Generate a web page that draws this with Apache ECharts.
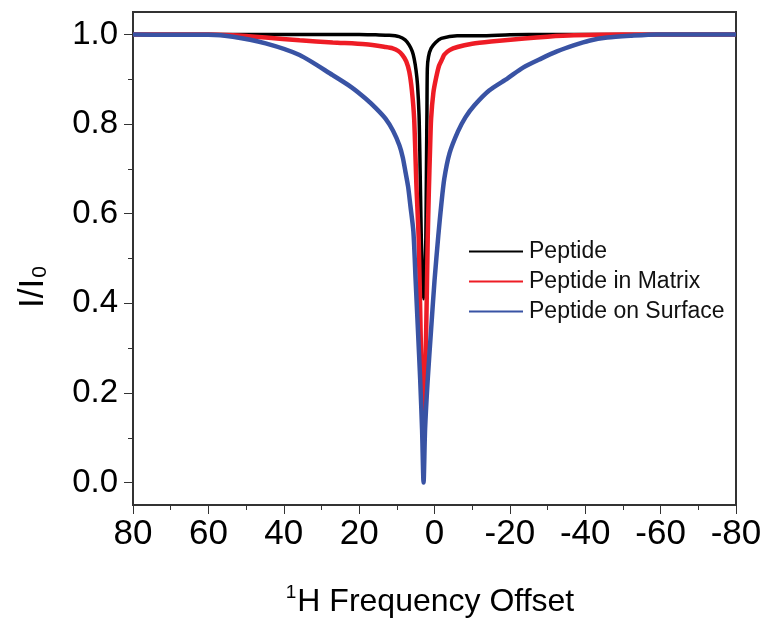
<!DOCTYPE html>
<html>
<head>
<meta charset="utf-8">
<script src="https://cdn.jsdelivr.net/npm/echarts@6/dist/echarts.min.js"></script>
<style>html,body{margin:0;padding:0;background:#fff;}#c{width:765px;height:620px;}</style>
</head>
<body>
<div id="c"></div>
<script>
// Frequency offset (x) and I/I0 (y)
const peptideX = [80, 40, 20, 15.6, 12, 9.4, 7.8, 6.7, 5.9, 5.4, 4.9, 4.5, 4.1, 3.9, 3.7, 3.5, 3.2, 2.9, 2.6, 2.3, 2.2, 2.1, 2.0, 1.9, 1.6, 0.9, -0.3, -1.8, -6, -12, -20, -30, -45, -80];
const peptideY = [1.000, 1.000, 1.000, 0.999, 0.998, 0.995, 0.988, 0.976, 0.962, 0.946, 0.920, 0.887, 0.820, 0.738, 0.640, 0.544, 0.450, 0.410, 0.450, 0.544, 0.640, 0.738, 0.830, 0.924, 0.950, 0.969, 0.982, 0.991, 0.997, 0.997, 0.999, 1.000, 1.000, 1.000];

const matrixX = [80, 60, 53.5, 44.8, 35.8, 27, 18.3, 13, 11.1, 9.6, 8.5, 7.5, 6.7, 6.0, 5.4, 4.8, 4.2, 3.7, 3.3, 3.0, 2.7, 2.2, 1.8, 1.5, 1.2, 0.9, 0.3, -0.4, -1.2, -2.1, -2.6, -4, -6.1, -10, -15, -23.8, -30, -37, -50, -80];
const matrixY = [1.000, 1.000, 0.998, 0.993, 0.987, 0.982, 0.978, 0.972, 0.969, 0.963, 0.954, 0.940, 0.917, 0.875, 0.812, 0.663, 0.544, 0.342, 0.180, 0.110, 0.180, 0.342, 0.544, 0.650, 0.738, 0.812, 0.870, 0.902, 0.930, 0.946, 0.955, 0.965, 0.972, 0.979, 0.984, 0.991, 0.995, 0.998, 1.000, 1.000];

const surfaceX = [80, 70, 60, 53.5, 44.8, 35.8, 27, 22, 18.3, 15.5, 13, 11, 9.3, 8.4, 7.7, 7.0, 6.4, 5.6, 5.0, 4.4, 3.8, 3.3, 2.9, 2.5, 1.8, 0.9, 0.0, -1.0, -1.8, -2.6, -4.0, -6.2, -8.2, -10.6, -14.5, -19.4, -23.5, -28.3, -32.5, -37.1, -41, -45.8, -52, -59, -70, -80];
const surfaceY = [1.000, 0.999, 0.999, 0.995, 0.980, 0.954, 0.909, 0.882, 0.857, 0.835, 0.812, 0.785, 0.752, 0.725, 0.693, 0.660, 0.618, 0.560, 0.450, 0.342, 0.230, 0.119, 0.000, 0.119, 0.230, 0.342, 0.450, 0.550, 0.620, 0.678, 0.735, 0.783, 0.815, 0.842, 0.875, 0.902, 0.926, 0.946, 0.962, 0.976, 0.986, 0.993, 0.997, 1.000, 1.000, 1.000];

const seriesNames = ['Peptide', 'Peptide in Matrix', 'Peptide on Surface'];
const xMajorTicks = [-80, -60, -40, -20, 0, 20, 40, 60, 80];
const yMajorTicks = [0, 0.2, 0.4, 0.6, 0.8, 1.0];
const yMinorTicks = [0.1, 0.3, 0.5, 0.7, 0.9];

function pairs(xs, ys) { return xs.map((x, i) => [x, ys[i]]); }

const FONT = '"Liberation Sans", Arial, sans-serif';
const chart = echarts.init(document.getElementById('c'), null, {renderer: 'canvas'});
chart.setOption({
  animation: false,
  backgroundColor: '#fff',
  grid: {left: 133, right: 29, top: 12, bottom: 115, show: true, borderColor: '#333', borderWidth: 2, backgroundColor: 'transparent'},
  legend: {
    data: seriesNames,
    orient: 'vertical',
    left: 469, top: 240,
    padding: 0,
    itemGap: 7,
    itemWidth: 54, itemHeight: 2,
    icon: 'rect',
    textStyle: {fontFamily: FONT, fontSize: 23, color: '#111', lineHeight: 22, padding: [0, 0, 0, 1]}
  },
  xAxis: {
    type: 'value', min: -80, max: 80, interval: 20, inverse: true,
    axisLine: {show: true, onZero: false, lineStyle: {color: '#333', width: 2}},
    axisTick: {show: true, length: 9, lineStyle: {color: '#333', width: 1}},
    minorTick: {show: true, splitNumber: 2, length: 5, lineStyle: {color: '#333', width: 1}},
    splitLine: {show: false},
    axisLabel: {fontFamily: FONT, fontSize: 35, color: '#000', margin: 12,
      customValues: xMajorTicks}
  },
  yAxis: [{
    type: 'value', min: -0.05, max: 1.05,
    axisLine: {show: true, onZero: false, lineStyle: {color: '#333', width: 2}},
    axisTick: {show: true, length: 9, customValues: yMajorTicks, lineStyle: {color: '#333', width: 1}},
    splitLine: {show: false},
    axisLabel: {fontFamily: FONT, fontSize: 33, color: '#000', margin: 15,
      customValues: yMajorTicks, formatter: v => v.toFixed(1)}
  }, {
    type: 'value', min: -0.05, max: 1.05, position: 'left',
    axisLine: {show: false, onZero: false},
    axisTick: {show: true, length: 5, customValues: yMinorTicks, lineStyle: {color: '#333', width: 1}},
    splitLine: {show: false},
    axisLabel: {show: false}
  }],
  graphic: [
    {type: 'text', x: 430, y: 602, style: {
      text: '{s|1}{m|H Frequency Offset}', align: 'center', verticalAlign: 'middle',
      rich: {
        s: {fontFamily: FONT, fontSize: 19, fill: '#000', verticalAlign: 'top', lineHeight: 38, padding: [0, 1, 14, 0]},
        m: {fontFamily: FONT, fontSize: 32, fill: '#000', lineHeight: 38}
      }}},
    {type: 'text', x: 33, y: 287, rotation: Math.PI / 2, style: {
      text: '{m|I/I}{b|0}', align: 'center', verticalAlign: 'middle',
      rich: {
        m: {fontFamily: FONT, fontSize: 35, fill: '#000', lineHeight: 40},
        b: {fontFamily: FONT, fontSize: 21, fill: '#000', lineHeight: 40, padding: [14, 0, 0, 1]}
      }}}
  ],
  series: [
    {name: 'Peptide', type: 'line', data: pairs(peptideX, peptideY), showSymbol: false, symbol: 'none',
      smooth: 0.25, lineStyle: {color: '#000', width: 3.5}, itemStyle: {color: '#000'}, z: 2},
    {name: 'Peptide in Matrix', type: 'line', data: pairs(matrixX, matrixY), showSymbol: false, symbol: 'none',
      smooth: 0.25, lineStyle: {color: '#ee1c25', width: 4.5}, itemStyle: {color: '#ee1c25'}, z: 3},
    {name: 'Peptide on Surface', type: 'line', data: pairs(surfaceX, surfaceY), showSymbol: false, symbol: 'none',
      smooth: 0.25, lineStyle: {color: '#3953a4', width: 4.5}, itemStyle: {color: '#3953a4'}, z: 4}
  ]
});
</script>
</body>
</html>
